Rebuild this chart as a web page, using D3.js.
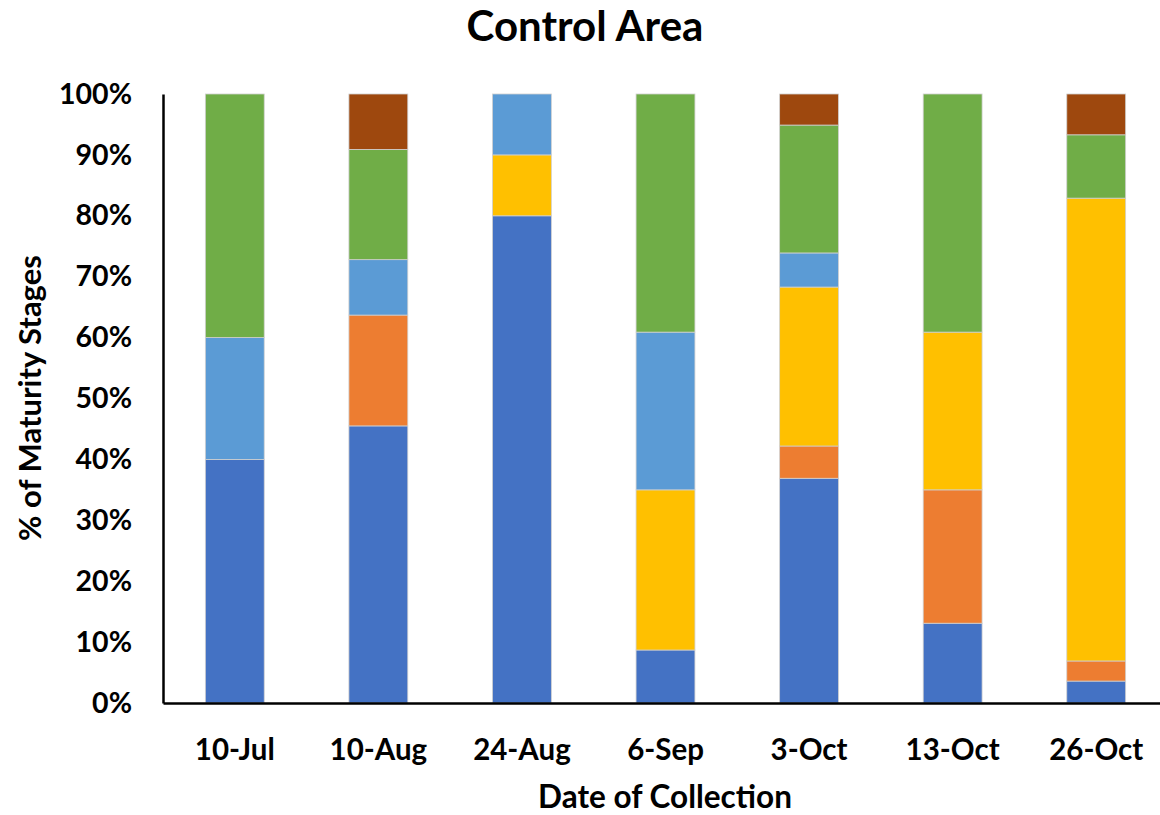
<!DOCTYPE html>
<html><head><meta charset="utf-8">
<script src="https://cdn.jsdelivr.net/npm/d3@7"></script>
<style>body{margin:0;background:#fff;} text{font-family:Lato, "Open Sans", sans-serif;}</style>
</head><body>
<svg id="c" width="1160" height="815"></svg>
<script>
const categories = ["10-Jul","10-Aug","24-Aug","6-Sep","3-Oct","13-Oct","26-Oct"];
const seriesNames = ["Stage 1","Stage 2","Stage 3","Stage 4","Stage 5","Stage 6"];
const seriesColors = ["#4472C4","#ED7D31","#FFC000","#5B9BD5","#70AD47","#9E480E"];
const stage1 = [40, 45.5, 80, 8.7, 36.9, 13.1, 3.6];
const stage2 = [0, 18.2, 0, 0, 5.3, 21.9, 3.3];
const stage3 = [0, 0, 10, 26.3, 26.1, 25.9, 76.0];
const stage4 = [20, 9.1, 10, 25.9, 5.6, 0, 0];
const stage5 = [40, 18.1, 0, 39.1, 21.0, 39.1, 10.4];
const stage6 = [0, 9.1, 0, 0, 5.1, 0, 6.7];
const yTicks = [0,10,20,30,40,50,60,70,80,90,100];

const seriesVals = [stage1,stage2,stage3,stage4,stage5,stage6];
const rows = categories.map((c,i)=>{const r={cat:c}; seriesNames.forEach((s,j)=>r[s]=seriesVals[j][i]); return r;});
const stacked = d3.stack().keys(seriesNames)(rows);

const svg = d3.select("#c");
const x = d3.scaleBand().domain(categories).range([163,1168]).paddingInner(0.59).paddingOuter(0.295);
const y = d3.scaleLinear().domain([0,100]).range([703,94]);

svg.append("g").selectAll("g").data(stacked).join("g")
  .attr("fill",(d,i)=>seriesColors[i])
  .selectAll("rect").data(d=>d.filter(p=>p[1]-p[0]>0)).join("rect")
  .attr("x",d=>x(d.data.cat)).attr("width",x.bandwidth())
  .attr("y",d=>y(d[1])).attr("height",d=>y(d[0])-y(d[1]))
  .attr("stroke","#d0d0d0").attr("stroke-width",0.8);

// axes
const ya = svg.append("g").attr("transform","translate(163,0)")
  .call(d3.axisLeft(y).tickValues(yTicks).tickFormat(d=>d+"%").tickSize(0).tickPadding(31));
ya.select(".domain").attr("stroke","#000").attr("stroke-width",2.5);
ya.selectAll("text").attr("font-size",28.5).attr("font-weight","bold").attr("fill","#000");

const xa = svg.append("g").attr("transform","translate(0,703)")
  .call(d3.axisBottom(x).tickSize(0).tickPadding(36));
xa.select(".domain").attr("stroke","#000").attr("stroke-width",2.5);
xa.selectAll("text").attr("font-size",29.5).attr("font-weight","bold").attr("fill","#000");

svg.append("text").attr("x",585).attr("y",41).attr("text-anchor","middle")
  .attr("font-size",42).attr("font-weight","bold").text("Control Area");
svg.append("text").attr("x",665).attr("y",808).attr("text-anchor","middle")
  .attr("font-size",31.5).attr("font-weight","bold").text("Date of Collection");
svg.append("text").attr("transform","translate(41,398) rotate(-90)").attr("text-anchor","middle")
  .attr("font-size",31).attr("font-weight","bold").text("% of Maturity Stages");
</script>
</body></html>
